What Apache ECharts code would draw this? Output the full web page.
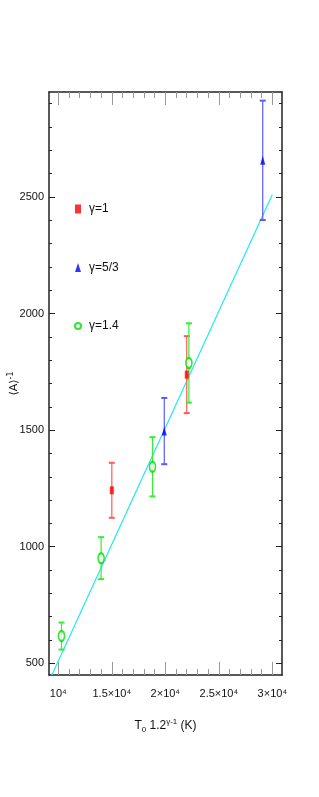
<!DOCTYPE html>
<html><head><meta charset="utf-8">
<script src="https://cdn.jsdelivr.net/npm/echarts@6/dist/echarts.min.js"></script>
<style>html,body{margin:0;padding:0;background:#fff}#c{width:319px;height:797px}</style>
</head><body><div id="c"></div>
<script>
// ---- data ----
var g1X = [15000, 22000];
var g1Y = [1242, 1738];
var g1E = [118, 165];

var g53X = [19900, 29100];
var g53Y = [1496, 2657];
var g53E = [142, 256];

var g14X = [10300, 14000, 18800, 22200];
var g14Y = [617, 951, 1343, 1788];
var g14E = [58, 90, 127, 170];

var fitX = [9400, 30000];
var fitY = [450, 2510];

var xMajor = [10000, 15000, 20000, 25000, 30000];
var xMajorLabels = ['10\u2074', '1.5\u00d710\u2074', '2\u00d710\u2074', '2.5\u00d710\u2074', '3\u00d710\u2074'];
var xMinor = [];
for (var v = 10000; v <= 30000; v += 1000) xMinor.push(v);
var yMajor = [500, 1000, 1500, 2000, 2500];
var yMajorLabels = ['500', '1000', '1500', '2000', '2500'];
var yMinor = [];
for (var w = 500; w <= 2900; w += 100) yMinor.push(w);

var names = ['\u03b3=1', '\u03b3=5/3', '\u03b3=1.4'];

var XMIN = 9130, XMAX = 30900, YMIN = 450, YMAX = 2950;
var FONT = "'Liberation Sans Narrow', 'Liberation Sans', sans-serif";

function pts(xs, ys) { return xs.map(function (x, i) { return [x, ys[i]]; }); }
function errs(xs, ys, es) { return xs.map(function (x, i) { return [x, ys[i] - es[i], ys[i] + es[i]]; }); }

function errSeries(data, color) {
  return {
    type: 'custom', xAxisIndex: 0, yAxisIndex: 0, silent: true, z: 3,
    data: data,
    renderItem: function (params, api) {
      var x = api.value(0), lo = api.value(1), hi = api.value(2);
      var a = api.coord([x, lo]), b = api.coord([x, hi]);
      var hw = 3;
      return { type: 'group', children: [
        { type: 'line', shape: { x1: a[0], y1: a[1], x2: b[0], y2: b[1] }, style: { stroke: color, lineWidth: 1.2 } },
        { type: 'line', shape: { x1: a[0] - hw, y1: a[1], x2: a[0] + hw, y2: a[1] }, style: { stroke: color, lineWidth: 2 } },
        { type: 'line', shape: { x1: b[0] - hw, y1: b[1], x2: b[0] + hw, y2: b[1] }, style: { stroke: color, lineWidth: 2 } }
      ]};
    }
  };
}

function xAxisDef(pos, major, main) {
  return {
    type: 'value', position: pos, min: XMIN, max: XMAX, gridIndex: 0,
    splitLine: { show: false },
    axisLine: { show: main, lineStyle: { color: '#222', width: 1.5 } },
    axisTick: { show: true, inside: true, length: major ? 13 : 6, customValues: major ? xMajor : xMinor,
      lineStyle: { color: '#999', width: 1 } },
    axisLabel: { show: pos === 'bottom' && major, customValues: xMajor, margin: 13,
      fontFamily: FONT, fontSize: 11, color: '#111',
      formatter: function (val) { var i = xMajor.indexOf(val); return i >= 0 ? xMajorLabels[i] : ''; } },
    name: (pos === 'bottom' && major) ? 'T{sub|0} 1.2{sup|\u03b3-1} (K)' : '',
    nameLocation: 'middle', nameGap: 43, nameMoveOverlap: false,
    nameTextStyle: { fontFamily: FONT, fontSize: 12, color: '#111',
      rich: { sub: { fontSize: 8, verticalAlign: 'bottom', padding: [8, 0, 0, 0], fontFamily: FONT },
              sup: { fontSize: 8, verticalAlign: 'top', padding: [0, 0, 8, 0], fontFamily: FONT } } }
  };
}
function yAxisDef(pos, major, main) {
  return {
    type: 'value', position: pos, min: YMIN, max: YMAX, gridIndex: 0,
    splitLine: { show: false },
    axisLine: { show: main, lineStyle: { color: '#222', width: 1.5 } },
    axisTick: { show: true, inside: true, length: major ? 6 : 3, customValues: major ? yMajor : yMinor,
      lineStyle: { color: '#222', width: 1 } },
    axisLabel: { show: pos === 'left' && major, customValues: yMajor, margin: 5,
      fontFamily: FONT, fontSize: 11, color: '#111',
      formatter: function (val) { var i = yMajor.indexOf(val); return i >= 0 ? yMajorLabels[i] : ''; } },
    name: (pos === 'left' && major) ? '\u27e8A\u27e9{sup|-1}' : '',
    nameLocation: 'middle', nameGap: 28, nameRotate: 90, nameMoveOverlap: false,
    nameTextStyle: { fontFamily: "'DejaVu Sans', sans-serif", fontSize: 11, color: '#111',
      rich: { sup: { fontSize: 8, padding: [0, 0, 6, 0], fontFamily: "'DejaVu Sans', sans-serif" } } }
  };
}

var chart = echarts.init(document.getElementById('c'), null, { renderer: 'canvas' });
chart.setOption({
  animation: false,
  backgroundColor: '#fff',
  grid: { left: 49, right: 37, top: 92, bottom: 122, containLabel: false, outerBoundsMode: 'none' },
  xAxis: [xAxisDef('bottom', true, true), xAxisDef('bottom', false, false), xAxisDef('top', true, true), xAxisDef('top', false, false)],
  yAxis: [yAxisDef('left', true, true), yAxisDef('left', false, false), yAxisDef('right', true, true), yAxisDef('right', false, false)],
  legend: {
    orient: 'vertical', left: 69, top: 198, itemGap: 46.5, itemWidth: 6, itemHeight: 9,
    data: names,
    textStyle: { fontFamily: FONT, fontSize: 12, color: '#111', padding: [0, 0, 0, 3] }
  },
  series: [
    { type: 'line', name: 'fit', data: pts(fitX, fitY), showSymbol: false, symbol: 'none', clip: true,
      lineStyle: { color: '#22e8f0', width: 1.2 }, z: 2, silent: true },
    errSeries(errs(g1X, g1Y, g1E), '#ff5a5a'),
    errSeries(errs(g53X, g53Y, g53E), '#5a5aff'),
    errSeries(errs(g14X, g14Y, g14E), '#33ee33'),
    { type: 'scatter', name: names[0], data: pts(g1X, g1Y), symbol: 'rect', symbolSize: [4, 8],
      itemStyle: { color: '#ff0000' }, z: 5 },
    { type: 'scatter', name: names[1], data: pts(g53X, g53Y), symbol: 'triangle', symbolSize: [5, 9],
      itemStyle: { color: '#0000ff' }, z: 5 },
    { type: 'scatter', name: names[2], data: pts(g14X, g14Y), symbol: 'emptyCircle', symbolSize: [6, 10],
      itemStyle: { color: '#00dd00', borderWidth: 1 }, z: 5 }
  ]
});
</script>
</body></html>
